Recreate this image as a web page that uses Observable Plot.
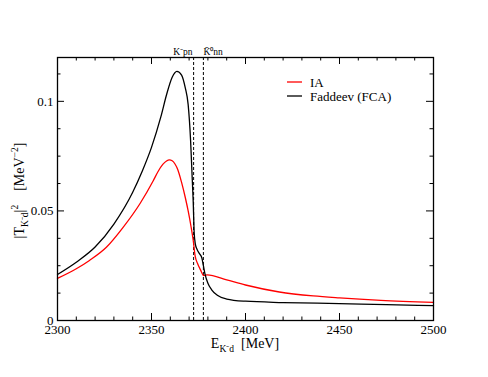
<!DOCTYPE html>
<html><head><meta charset="utf-8">
<script src="https://cdn.jsdelivr.net/npm/d3@7"></script>
<script src="https://cdn.jsdelivr.net/npm/@observablehq/plot@0.6"></script>
<style>body{margin:0;background:#fff} #chart svg{display:block}</style>
</head><body><div id="chart"></div>
<script>
// IA (red)
const energyIA = [2300, 2310, 2317, 2326, 2335, 2344, 2351, 2353.5, 2356, 2358, 2359.5, 2361, 2362.5, 2364, 2366, 2368, 2369.5, 2371, 2372.2, 2373.2, 2374.5, 2376, 2377.8, 2379.6, 2390, 2400, 2418, 2436, 2450, 2472, 2500];
const valueIA  = [0.0192, 0.0236, 0.0274, 0.0334, 0.0426, 0.0535, 0.0639, 0.0680, 0.0712, 0.0728, 0.0733, 0.0729, 0.0714, 0.0688, 0.0630, 0.0560, 0.0500, 0.0430, 0.0365, 0.0295, 0.0260, 0.0232, 0.0205, 0.0208, 0.0185, 0.0162, 0.0130, 0.0112, 0.0103, 0.0092, 0.0083];
// Faddeev (FCA) (black)
const energyFCA = [2300, 2310, 2320, 2330, 2340, 2345, 2350, 2355, 2358, 2361, 2363.5, 2366, 2368, 2369.5, 2370.8, 2371.6, 2372.2, 2372.7, 2373.3, 2374.2, 2375.5, 2376.8, 2377.6, 2378.5, 2380, 2382, 2385, 2390, 2400, 2420, 2450, 2475, 2500];
const valueFCA  = [0.0210, 0.0266, 0.0335, 0.0440, 0.0585, 0.0680, 0.0790, 0.0930, 0.1030, 0.1110, 0.1137, 0.1120, 0.1060, 0.0985, 0.0820, 0.0660, 0.0540, 0.0400, 0.0350, 0.0325, 0.0305, 0.0285, 0.0250, 0.0210, 0.0170, 0.0140, 0.0115, 0.0098, 0.0088, 0.0082, 0.0077, 0.0072, 0.0068];
// thresholds
const thresholdEnergies = [2372.4, 2377.6];
const thresholdLabels = ["K\u207Bpn", "K\u0304\u2070nn"];
// ticks
const xMajor = [2300, 2350, 2400, 2450, 2500];
const xMinor = d3.range(2310, 2500, 10).filter(v => v % 50 !== 0);
const yMajor = [0, 0.05, 0.1];
const yMinor = [0.0125, 0.025, 0.0375, 0.0625, 0.075, 0.0875, 0.1125];
const seriesNames = ["IA", "Faddeev (FCA)"];
const seriesColors = ["#ff0000", "#000000"];

const W = 488, H = 377, mL = 57, mR = 55, mT = 57, mB = 57;
const pw = W - mL - mR, ph = H - mT - mB;
const font = "Liberation Serif, Times New Roman, serif";

const ia = energyIA.map((e, i) => ({e, v: valueIA[i]}));
const fca = energyFCA.map((e, i) => ({e, v: valueFCA[i]}));

const majorLen = 7, minorLen = 3.5;
function xTicks(vals, len) {
  return [
    Plot.tickX(vals, {x: d => d, insetTop: ph - len, stroke: "black", strokeWidth: 1}),
    Plot.tickX(vals, {x: d => d, insetBottom: ph - len, stroke: "black", strokeWidth: 1})
  ];
}
function yTicks(vals, len) {
  return [
    Plot.tickY(vals, {y: d => d, insetRight: pw - len, stroke: "black", strokeWidth: 1}),
    Plot.tickY(vals, {y: d => d, insetLeft: pw - len, stroke: "black", strokeWidth: 1})
  ];
}

const chart = Plot.plot({
  width: W, height: H,
  marginLeft: mL, marginRight: mR, marginTop: mT, marginBottom: mB,
  style: `font-family: ${font}; font-size: 13px; background: white; color: black;`,
  x: {domain: [2300, 2500], label: null},
  y: {domain: [0, 0.12], label: null},
  marks: [
    Plot.axisX(xMajor, {tickSize: 0, tickPadding: 4, tickFormat: d => String(d), label: null, fontSize: 13, fontFamily: font}),
    Plot.axisY(yMajor, {tickSize: 0, tickPadding: 4, tickFormat: d => String(d), label: null, fontSize: 13, fontFamily: font}),
    ...xTicks(xMajor, majorLen), ...xTicks(xMinor, minorLen),
    ...yTicks(yMajor, majorLen), ...yTicks(yMinor, minorLen),
    Plot.ruleX(thresholdEnergies, {x: d => d, stroke: "black", strokeWidth: 1, strokeDasharray: "3,2"}),
    Plot.line(ia, {x: "e", y: "v", stroke: seriesColors[0], strokeWidth: 1.3, curve: "monotone-x"}),
    Plot.line(fca, {x: "e", y: "v", stroke: seriesColors[1], strokeWidth: 1.3, curve: "monotone-x"}),
    Plot.text([0], {x: () => thresholdEnergies[0], text: () => thresholdLabels[0], frameAnchor: "top", dy: -9, dx: -1, textAnchor: "end", fontSize: 9.5, fontFamily: font}),
    Plot.text([1], {x: () => thresholdEnergies[1], text: () => thresholdLabels[1], frameAnchor: "top", dy: -9, dx: 0, textAnchor: "start", fontSize: 9.5, fontFamily: font}),
    Plot.frame({stroke: "black", strokeWidth: 1.3})
  ]
});
document.getElementById("chart").appendChild(chart);

const svg = d3.select(chart);
function rich(textSel, parts) {
  parts.forEach(([t, fs, dy]) => textSel.append("tspan").attr("font-size", fs).attr("dy", dy).text(t));
}
// x label
const xl = svg.append("text").attr("x", mL + pw / 2).attr("y", 348)
  .attr("text-anchor", "middle").attr("font-family", font).attr("fill", "black").style("white-space", "pre");
rich(xl, [["E", 14, 0], ["K\u207Bd", 9.5, 4], ["  [MeV]", 14, -4]]);
// y label
const yl = svg.append("text").attr("transform", `translate(24,${mT + ph / 2 + 2}) rotate(-90)`)
  .attr("text-anchor", "middle").attr("font-family", font).attr("fill", "black").style("white-space", "pre");
rich(yl, [["|T", 14, 0], ["K\u207Bd", 9.5, 4], ["|", 14, -4], ["2", 9.5, -6], ["    [MeV", 14, 6], ["\u22122", 9.5, -6], ["]", 14, 6]]);

// legend
const legend = svg.append("g").attr("font-family", font).attr("font-size", 13).attr("text-anchor", "start");
seriesNames.forEach((name, i) => {
  const y = 82 + i * 14;
  legend.append("line").attr("x1", 287).attr("x2", 302).attr("y1", y).attr("y2", y)
    .attr("stroke", seriesColors[i]).attr("stroke-width", 1.3);
  legend.append("text").attr("x", 310).attr("y", y).attr("dy", "0.35em").attr("text-anchor", "start").attr("fill", "black").text(name);
});
</script>
</body></html>
